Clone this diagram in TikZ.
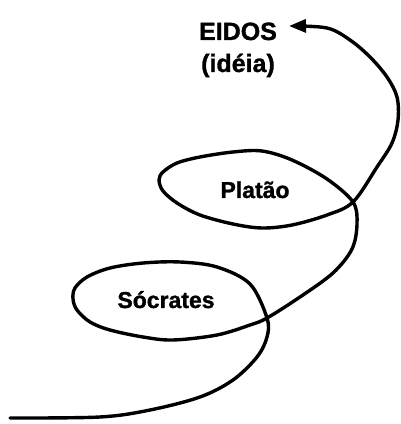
\documentclass[tikz,border=0pt]{standalone}
\usepackage{fontspec}
\setmainfont{Liberation Sans}
\newfontfamily\lblfont[FakeBold=1.2]{Liberation Sans Bold}
\usetikzlibrary{arrows.meta}
\begin{document}
\begin{tikzpicture}[x=1pt,y=1pt,
  lbl/.style={font=\lblfont\fontsize{23}{26}\selectfont, inner sep=0pt, anchor=base},
  biglbl/.style={lbl, font=\lblfont\fontsize{25}{28}\selectfont},
  spiral/.style={line width=3.4pt, line cap=round, -{Triangle[length=17pt,width=13pt]}}]
\useasboundingbox (0,0) rectangle (401,424);
\node[biglbl] (eidos) at (238,384) {EIDOS};
\node[biglbl] (idea) at (238,352) {(idéia)};
\node[lbl] (platao) at (255,226) {Platão};
\node[lbl] (socrates) at (166,116) {Sócrates};
\coordinate (start) at (10,6);
\coordinate (x1) at (267,106);
\coordinate (x2) at (353,222);
\coordinate (tip) at (289,398);
\draw[spiral] plot[smooth, tension=0.55] coordinates {
  (start) (100,7) (150,14) (200,27) (233,44) (257,67) (267,87)
  (x1) (250,140) (217,157) (180,162) (143,161) (110,156) (87,147) (75,136)
  (73,125) (77,114) (90,102) (110,94) (143,87) (173,84) (217,89) (250,99) (x1)
  (300,127) (333,151) (352,175) (357,200) (x2)
  (327,245) (292,264) (262,273) (233,272) (200,267) (177,261) (163,252)
  (159,244) (163,233) (177,221) (200,209) (233,200) (262,196) (292,199)
  (327,209) (x2)
  (377,257) (392,281) (398,304) (397,327) (387,347) (370,367) (350,384)
  (327,396) (tip)};
\end{tikzpicture}
\end{document}
